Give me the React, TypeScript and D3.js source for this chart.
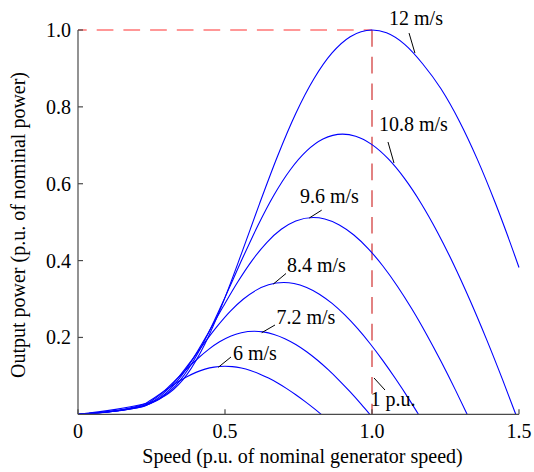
import React from "react";
import * as d3 from "d3";

// Speed (p.u.) / output power (p.u.) points, one list per wind speed
const speed12 = [0, 0.22, 0.2469, 0.3086, 0.3704, 0.4321, 0.4938, 0.5556, 0.6173, 0.679, 0.7407, 0.8025, 0.8642, 0.9259, 1.0, 1.0494, 1.1111, 1.1728, 1.2346, 1.2963, 1.358, 1.4198, 1.4815, 1.5];
const power12 = [0, 0.0262, 0.0314, 0.0543, 0.1033, 0.1838, 0.292, 0.4173, 0.5477, 0.6722, 0.7827, 0.873, 0.9402, 0.9825, 1.0, 0.9926, 0.9625, 0.9115, 0.847, 0.764, 0.664, 0.549, 0.422, 0.382];

const speed108 = [0, 0.2222, 0.2778, 0.3333, 0.3889, 0.4444, 0.5, 0.5556, 0.6111, 0.6667, 0.7222, 0.7778, 0.8333, 0.9, 0.9444, 1.0, 1.0556, 1.1111, 1.1667, 1.2222, 1.2778, 1.3333, 1.3889, 1.4444, 1.4889];
const power108 = [0, 0.0229, 0.0396, 0.0753, 0.134, 0.2129, 0.3042, 0.3993, 0.49, 0.5706, 0.6364, 0.6854, 0.7162, 0.729, 0.7236, 0.7017, 0.6644, 0.6132, 0.5494, 0.4746, 0.3899, 0.2968, 0.1963, 0.0896, 0];

const speed96 = [0, 0.22, 0.2469, 0.2963, 0.3457, 0.3951, 0.4444, 0.4938, 0.5432, 0.5926, 0.642, 0.6914, 0.7407, 0.8, 0.8395, 0.8889, 0.9383, 0.9877, 1.037, 1.0864, 1.1358, 1.1852, 1.2346, 1.284, 1.3235];
const power96 = [0, 0.0202, 0.0278, 0.0529, 0.0941, 0.1495, 0.2137, 0.2804, 0.3442, 0.4007, 0.447, 0.4814, 0.503, 0.512, 0.5082, 0.4928, 0.4666, 0.4306, 0.3859, 0.3333, 0.2739, 0.2084, 0.1379, 0.0629, 0];

const speed84 = [0, 0.22, 0.2593, 0.3025, 0.3457, 0.3889, 0.4321, 0.4753, 0.5185, 0.5617, 0.6049, 0.6481, 0.7, 0.7346, 0.7778, 0.821, 0.8642, 0.9074, 0.9506, 0.9938, 1.037, 1.0802, 1.1235, 1.158];
const power84 = [0, 0.0197, 0.0354, 0.063, 0.1002, 0.1431, 0.1879, 0.2306, 0.2685, 0.2994, 0.3225, 0.337, 0.343, 0.3405, 0.3301, 0.3126, 0.2885, 0.2585, 0.2233, 0.1835, 0.1396, 0.0924, 0.0422, 0];

const speed72 = [0, 0.2222, 0.2593, 0.2963, 0.3333, 0.3704, 0.4074, 0.4444, 0.4815, 0.5185, 0.5556, 0.6, 0.6296, 0.6667, 0.7037, 0.7407, 0.7778, 0.8148, 0.8519, 0.8889, 0.9259, 0.963, 0.9926];
const power72 = [0, 0.0223, 0.0397, 0.0631, 0.0901, 0.1183, 0.1452, 0.1691, 0.1886, 0.2031, 0.2122, 0.216, 0.2144, 0.2079, 0.1969, 0.1817, 0.1628, 0.1406, 0.1155, 0.0879, 0.0582, 0.0265, 0];

const speed6 = [0, 0.22, 0.2469, 0.2778, 0.3086, 0.3395, 0.3704, 0.4012, 0.4321, 0.463, 0.5, 0.5247, 0.5556, 0.5864, 0.6173, 0.6481, 0.679, 0.7099, 0.7407, 0.7716, 0.8025, 0.8272];
const power6 = [0, 0.0247, 0.0365, 0.0522, 0.0685, 0.084, 0.0978, 0.1091, 0.1175, 0.1228, 0.125, 0.1241, 0.1203, 0.1139, 0.1051, 0.0942, 0.0814, 0.0669, 0.0509, 0.0337, 0.0154, 0];

const seriesSpeeds = [speed12, speed108, speed96, speed84, speed72, speed6];
const seriesPowers = [power12, power108, power96, power84, power72, power6];

// Labels: text, text anchor (speed, power), leader start and end (speed, power)
const labelTexts = ["12 m/s", "10.8 m/s", "9.6 m/s", "8.4 m/s", "7.2 m/s", "6 m/s", "1 p.u."];
const labelPos = [[1.058, 1.013], [1.0238, 0.7359], [0.7551, 0.5494], [0.7109, 0.369], [0.6752, 0.235], [0.5272, 0.14], [0.9949, 0.0203]];
const leaderFrom = [[1.126, 0.992], [1.0544, 0.7086], [0.8289, 0.5312], [0.7075, 0.3664], [0.6701, 0.2324], [0.5204, 0.1491], [1.0068, 0.0945]];
const leaderTo = [[1.146, 0.94], [1.0748, 0.6539], [0.7867, 0.5108], [0.6643, 0.3389], [0.6248, 0.2123], [0.4772, 0.1223], [1.0442, 0.0632]];

const xTicks = [0, 0.5, 1.0, 1.5];
const xTickLabels = ["0", "0.5", "1.0", "1.5"];
const yTicks = [0.2, 0.4, 0.6, 0.8, 1.0];
const yTickLabels = ["0.2", "0.4", "0.6", "0.8", "1.0"];

const nominalSpeed = 1.0;
const nominalPower = 1.0;

export default function App() {
  const W = 534, H = 472;
  const x = d3.scaleLinear().domain([0, 1.5]).range([78, 519]);
  const y = d3.scaleLinear().domain([0, 1.0]).range([414.3, 30]);
  const line = d3
    .line<[number, number]>()
    .x((d) => x(d[0]))
    .y((d) => y(d[1]))
    .curve(d3.curveMonotoneX);
  const ts = { fontFamily: "Liberation Serif", fontSize: "20px" };
  const axisColor = "#4a4a4a";

  return (
    <svg
      width={W}
      height={H}
      style={{ position: "absolute", left: 0, top: 0, background: "#fff" }}
    >
      {/* red dashed nominal lines */}
      <line x1={x(0)} x2={x(nominalSpeed)} y1={y(nominalPower)} y2={y(nominalPower)} stroke="#ff3030" strokeWidth={1.2} strokeDasharray="16.7 10" strokeDashoffset={8} />
      <line x1={x(nominalSpeed)} x2={x(nominalSpeed)} y1={y(nominalPower)} y2={y(0)} stroke="#d03030" strokeWidth={1.2} strokeDasharray="16.7 10" />

      {/* curves */}
      {seriesSpeeds.map((sp, i) => (
        <path
          key={i}
          d={line(sp.map((s, j) => [s, seriesPowers[i][j]] as [number, number])) || ""}
          fill="none"
          stroke="#0000ff"
          strokeWidth={1.1}
        />
      ))}

      {/* axes */}
      <line x1={x(0)} x2={x(1.5)} y1={y(0)} y2={y(0)} stroke={axisColor} strokeWidth={1.2} />
      <line x1={x(0)} x2={x(0)} y1={y(0)} y2={y(1.0)} stroke={axisColor} strokeWidth={1.2} />
      {xTicks.map((t, i) => (
        <g key={"xt" + i}>
          <line x1={x(t)} x2={x(t)} y1={y(0)} y2={y(0) - 5} stroke={axisColor} strokeWidth={1.2} />
          <text x={x(t)} y={438} textAnchor="middle" style={ts} fill="#000">
            {xTickLabels[i]}
          </text>
        </g>
      ))}
      {yTicks.map((t, i) => (
        <g key={"yt" + i}>
          <line x1={x(0)} x2={x(0) + 5} y1={y(t)} y2={y(t)} stroke={axisColor} strokeWidth={1.2} />
          <text x={71} y={y(t) + 7} textAnchor="end" style={ts} fill="#000">
            {yTickLabels[i]}
          </text>
        </g>
      ))}

      {/* annotations */}
      {labelTexts.map((t, i) => (
        <g key={"lb" + i}>
          <line
            x1={x(leaderFrom[i][0])}
            y1={y(leaderFrom[i][1])}
            x2={x(leaderTo[i][0])}
            y2={y(leaderTo[i][1])}
            stroke="#000"
            strokeWidth={1}
          />
          <text x={x(labelPos[i][0])} y={y(labelPos[i][1])} style={ts} fill="#000">
            {t}
          </text>
        </g>
      ))}

      {/* axis titles */}
      <text x={302.5} y={463} textAnchor="middle" style={ts} fill="#000">
        Speed (p.u. of nominal generator speed)
      </text>
      <text transform={`translate(25,225) rotate(-90)`} textAnchor="middle" style={ts} fill="#000">
        Output power (p.u. of nominal power)
      </text>
    </svg>
  );
}
